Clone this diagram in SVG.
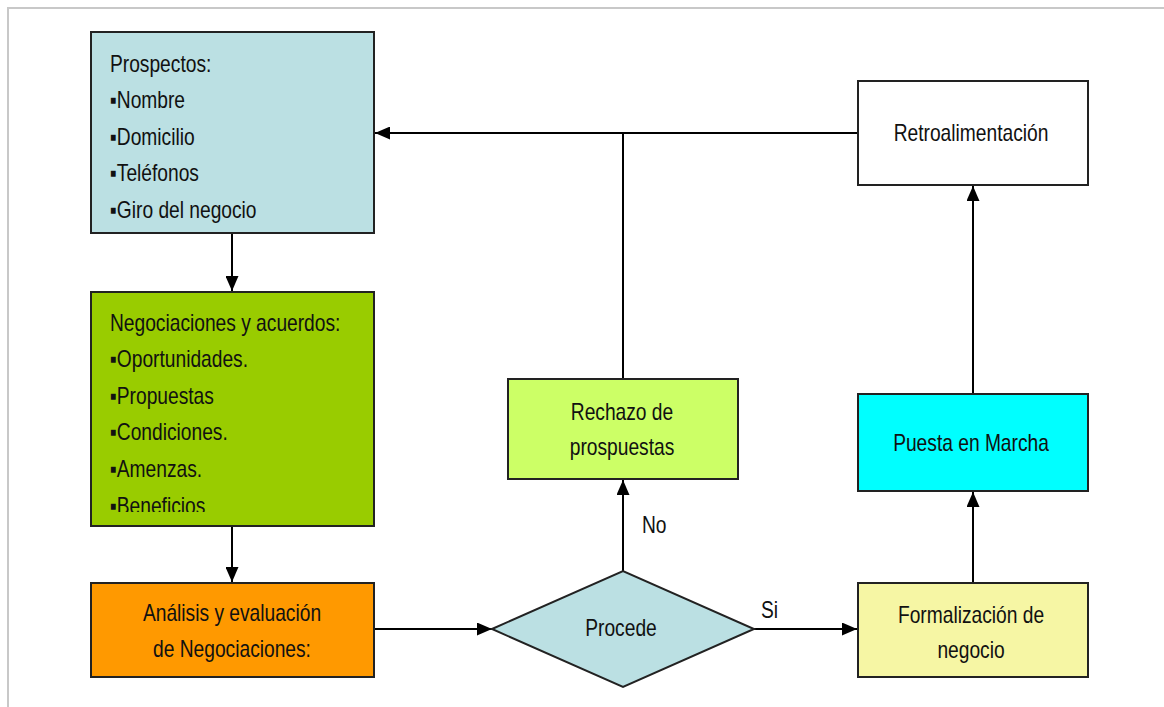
<svg xmlns="http://www.w3.org/2000/svg" width="1164" height="707" viewBox="0 0 1164 707">
  <style>
    .box { stroke: #222; stroke-width: 2; }
    .t { font-family: "Liberation Sans", Arial, sans-serif; font-size: 24px; fill: #111; }
    .c { text-anchor: middle; }
    .wire { fill: none; stroke: #000; stroke-width: 2; }
    .frame { stroke: #c8c8c8; stroke-width: 2; fill: none; }
  </style>
  <defs>
    <marker id="arrow" markerUnits="userSpaceOnUse" viewBox="0 0 15 13" refX="15" refY="6.5" markerWidth="15" markerHeight="13" orient="auto">
      <path d="M0,0 L15,6.5 L0,13 z" fill="#000"/>
    </marker>
    <clipPath id="negClip">
      <rect x="92" y="293" width="280" height="219"/>
    </clipPath>
  </defs>

  <rect width="1164" height="707" fill="#fff"/>
  <path class="frame" d="M8 707 V8 H1164"/>

  <!-- connectors -->
  <g id="connectors">
    <path class="wire" d="M232 233 V291" marker-end="url(#arrow)"/>
    <path class="wire" d="M232 526 V582" marker-end="url(#arrow)"/>
    <path class="wire" d="M374 629 H492" marker-end="url(#arrow)"/>
    <path class="wire" d="M754 629 H857" marker-end="url(#arrow)"/>
    <path class="wire" d="M623 571 V480" marker-end="url(#arrow)"/>
    <path class="wire" d="M973 583 V492" marker-end="url(#arrow)"/>
    <path class="wire" d="M973 394 V186" marker-end="url(#arrow)"/>
    <path class="wire" d="M858 133 H375" marker-end="url(#arrow)"/>
    <path class="wire" d="M623 379 V133"/>
    <text class="t" transform="translate(642 533) scale(0.8 1)">No</text>
    <text class="t" transform="translate(761 618) scale(0.8 1)">Si</text>
  </g>

  <g id="prospectos">
    <rect class="box" x="91" y="32" width="283" height="201" fill="#bbe0e3"/>
    <text class="t" transform="translate(110 72) scale(0.8 1)">Prospectos:</text>
    <text class="t" transform="translate(110 108) scale(0.8 1)">▪Nombre</text>
    <text class="t" transform="translate(110 145) scale(0.8 1)">▪Domicilio</text>
    <text class="t" transform="translate(110 181) scale(0.8 1)">▪Teléfonos</text>
    <text class="t" transform="translate(110 218) scale(0.8 1)">▪Giro del negocio</text>
  </g>

  <g id="negociaciones">
    <rect class="box" x="91" y="292" width="283" height="234" fill="#99cc00"/>
    <g clip-path="url(#negClip)">
      <text class="t" transform="translate(110 331) scale(0.8 1)">Negociaciones y acuerdos:</text>
      <text class="t" transform="translate(110 367) scale(0.8 1)">▪Oportunidades.</text>
      <text class="t" transform="translate(110 404) scale(0.8 1)">▪Propuestas</text>
      <text class="t" transform="translate(110 440) scale(0.8 1)">▪Condiciones.</text>
      <text class="t" transform="translate(110 477) scale(0.8 1)">▪Amenzas.</text>
      <text class="t" transform="translate(110 514) scale(0.8 1)">▪Beneficios</text>
    </g>
  </g>

  <g id="analisis">
    <rect class="box" x="91" y="583" width="283" height="94" fill="#ff9900"/>
    <text class="t c" transform="translate(232 621) scale(0.8 1)">Análisis y evaluación</text>
    <text class="t c" transform="translate(232 657) scale(0.8 1)">de Negociaciones:</text>
  </g>

  <g id="procede">
    <polygon class="box" points="492,629 623,571 754,629 623,687" fill="#bbe0e3"/>
    <text class="t c" transform="translate(621 636) scale(0.8 1)">Procede</text>
  </g>

  <g id="rechazo">
    <rect class="box" x="508" y="379" width="230" height="100" fill="#ccff66"/>
    <text class="t c" transform="translate(622 420) scale(0.8 1)">Rechazo de</text>
    <text class="t c" transform="translate(622 455) scale(0.8 1)">prospuestas</text>
  </g>

  <g id="retroalimentacion">
    <rect class="box" x="858" y="81" width="230" height="104" fill="#ffffff"/>
    <text class="t c" transform="translate(971 141) scale(0.8 1)">Retroalimentación</text>
  </g>

  <g id="puesta">
    <rect class="box" x="858" y="394" width="230" height="97" fill="#00ffff"/>
    <text class="t c" transform="translate(971 451) scale(0.8 1)">Puesta en Marcha</text>
  </g>

  <g id="formalizacion">
    <rect class="box" x="858" y="583" width="230" height="94" fill="#f6f6a4"/>
    <text class="t c" transform="translate(971 623) scale(0.8 1)">Formalización de</text>
    <text class="t c" transform="translate(971 658) scale(0.8 1)">negocio</text>
  </g>
</svg>
